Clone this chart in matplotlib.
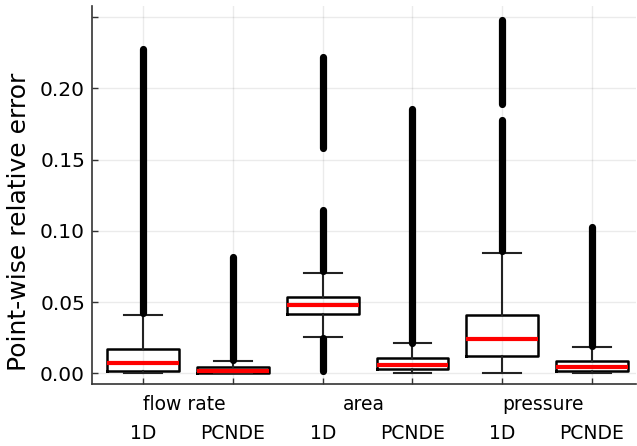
import matplotlib
matplotlib.use('Agg')
import matplotlib.pyplot as plt
import matplotlib.transforms as mtransforms

# groups and the two models compared in each
groups = ['flow rate', 'area', 'pressure']
models = ['1D', 'PCNDE']

# box summaries, one entry per box (1D, PCNDE for each group in turn)
whislo = [0.0, 0.0, 0.0257, 0.0, 0.0, 0.0]
q1 = [0.0018, 0.0004, 0.0418, 0.0028, 0.0121, 0.0018]
med = [0.0072, 0.0018, 0.0481, 0.0058, 0.0240, 0.0046]
q3 = [0.0173, 0.0042, 0.0533, 0.0110, 0.0409, 0.0086]
whishi = [0.0406, 0.0088, 0.0701, 0.0210, 0.0841, 0.0182]

# outlier ranges (lowest, highest) for each box; dense enough to read as bands
outliers = [
    [(0.0420, 0.2275)],
    [(0.0095, 0.0818)],
    [(0.0013, 0.0248), (0.0715, 0.1145), (0.1580, 0.2220)],
    [(0.0215, 0.1855)],
    [(0.0855, 0.1775), (0.1890, 0.2480)],
    [(0.0190, 0.1025)],
]

yticks = [0.0, 0.05, 0.10, 0.15, 0.20, 0.25]
yticklabels = ['0.00', '0.05', '0.10', '0.15', '0.20', '']

fig = plt.figure(figsize=(6.37, 4.46), dpi=100)
ax = fig.add_axes([0.1444, 0.139, 0.854, 0.8475])

positions = list(range(1, len(med) + 1))
stats = []
for i in range(len(med)):
    stats.append(dict(whislo=whislo[i], q1=q1[i], med=med[i],
                      q3=q3[i], whishi=whishi[i], fliers=[]))

ax.bxp(stats, positions=positions, widths=0.8, capwidths=0.42,
       showfliers=False, patch_artist=False,
       boxprops=dict(color='black', linewidth=1.8),
       whiskerprops=dict(color='#222222', linewidth=1.5),
       capprops=dict(color='#222222', linewidth=1.5),
       medianprops=dict(color='#ff0000', linewidth=3.0))

# outliers drawn as thick round-capped bands
for pos, segs in zip(positions, outliers):
    for lo, hi in segs:
        ax.vlines(pos, lo, hi, colors='black', linewidth=5.2,
                  capstyle='round', zorder=3)

ax.set_xlim(0.43, 6.49)
ax.set_ylim(-0.0075, 0.2577)

ax.set_yticks(yticks)
ax.set_yticklabels(yticklabels, fontsize=14.5)
ax.set_xticks(positions)
ax.set_xticklabels(models * len(groups), fontsize=13.5)

ax.tick_params(axis='both', direction='in', length=4, width=1,
               color='#333333')
ax.tick_params(axis='x', pad=29)
ax.tick_params(axis='y', pad=5)

ax.grid(True, color='#000000', alpha=0.08, linewidth=1)
ax.set_axisbelow(True)

for side in ['top', 'right']:
    ax.spines[side].set_visible(False)
for side in ['left', 'bottom']:
    ax.spines[side].set_color('#333333')
    ax.spines[side].set_linewidth(1.2)

ax.set_ylabel('Point-wise relative error', fontsize=18)
ax.yaxis.set_label_coords(-0.112, 0.428)

# group names centred between their two boxes
trans = mtransforms.blended_transform_factory(ax.transData, ax.transAxes)
for k, name in enumerate(groups):
    xc = (positions[2 * k] + positions[2 * k + 1]) / 2 - 0.045
    ax.text(xc, -0.055, name, transform=trans, ha='center', va='center',
            fontsize=13.5)

fig.savefig('out.png', dpi=100)
